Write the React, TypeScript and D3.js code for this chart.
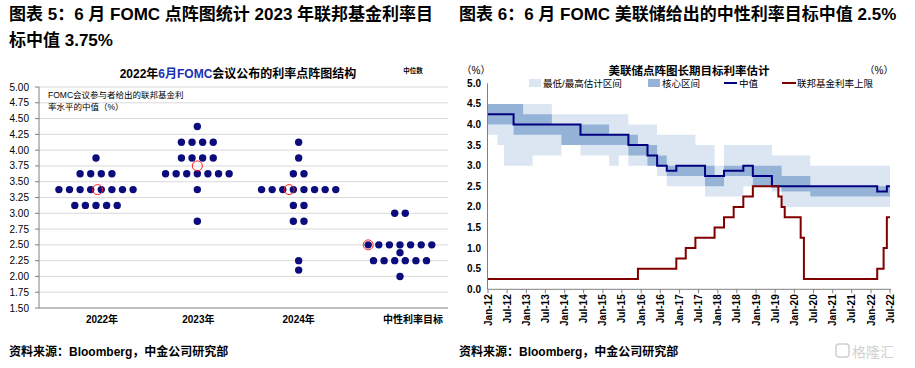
import React from "react";
import * as d3 from "d3";

const FONT = "'Liberation Sans', Arial, 'Noto Sans CJK SC', sans-serif";
const CJK = "'Liberation Sans', 'Noto Sans CJK SC', sans-serif";

// ---------- left chart: June 2022 dot plot ----------
const dotCategories = ["2022年", "2023年", "2024年", "中性利率目标"];
// [rate, number of participants]
const dots2022 = [[3.875, 1], [3.625, 4], [3.375, 8], [3.125, 5]];
const dots2023 = [[4.375, 1], [4.125, 4], [3.875, 4], [3.625, 7], [3.375, 1], [2.875, 1]];
const dots2024 = [[4.125, 1], [3.875, 1], [3.625, 2], [3.375, 8], [3.125, 2], [2.875, 2], [2.25, 1], [2.1, 1]];
const dotsLongRun = [[3.0, 2], [2.5, 7], [2.375, 1], [2.25, 6], [2.0, 1]];
const medianValues = [3.375, 3.75, 3.375, 2.5];
const medianSlot = [0.15, 0, -0.9, -3];
const labelShift = [6, 1, 0, 13];
const dotTicks = d3.range(1.5, 5.001, 0.25);

// ---------- right chart: longer-run rate estimates ----------
const sepDates = [
  "2012-01", "2012-04", "2012-06", "2012-09", "2012-12", "2013-03", "2013-06", "2013-09", "2013-12",
  "2014-03", "2014-06", "2014-09", "2014-12", "2015-03", "2015-06", "2015-09", "2015-12", "2016-03",
  "2016-06", "2016-09", "2016-12", "2017-03", "2017-06", "2017-09", "2017-12", "2018-03", "2018-06",
  "2018-09", "2018-12", "2019-03", "2019-06", "2019-09", "2019-12", "2020-06", "2020-09", "2020-12",
  "2021-03", "2021-06", "2021-09", "2021-12", "2022-03", "2022-06", "2022-07",
];
const sepMedian = [
  4.25, 4.25, 4.25, 4.0, 4.0, 4.0, 4.0, 4.0, 4.0,
  4.0, 3.75, 3.75, 3.75, 3.75, 3.75, 3.5, 3.5, 3.25,
  3.0, 2.875, 3.0, 3.0, 3.0, 2.75, 2.75, 2.875, 2.875,
  3.0, 2.75, 2.75, 2.5, 2.5, 2.5, 2.5, 2.5, 2.5,
  2.5, 2.5, 2.5, 2.5, 2.375, 2.5, 2.5,
];
const coreLow = [
  4.0, 4.0, 4.0, 3.75, 3.75, 3.75, 3.75, 3.75, 3.5,
  3.5, 3.5, 3.5, 3.5, 3.5, 3.5, 3.25, 3.25, 3.0,
  3.0, 2.75, 2.75, 2.75, 2.75, 2.5, 2.5, 2.75, 2.75,
  2.75, 2.5, 2.5, 2.5, 2.375, 2.375, 2.25, 2.25, 2.25,
  2.25, 2.25, 2.25, 2.25, 2.25, 2.25, 2.25,
];
const coreHigh = [
  4.5, 4.5, 4.5, 4.5, 4.25, 4.25, 4.25, 4.0, 4.0,
  4.0, 4.0, 4.0, 4.0, 3.75, 3.75, 3.75, 3.5, 3.5,
  3.25, 3.0, 3.0, 3.0, 3.0, 3.0, 2.75, 3.0, 3.0,
  3.0, 3.0, 3.0, 3.0, 2.75, 2.75, 2.5, 2.5, 2.5,
  2.5, 2.5, 2.5, 2.5, 2.5, 2.5, 2.5,
];
const rangeLow = [
  3.75, 3.5, 3.0, 3.0, 3.0, 3.25, 3.25, 3.25, 3.5,
  3.5, 3.25, 3.25, 3.25, 3.0, 3.25, 3.0, 3.0, 3.0,
  2.75, 2.5, 2.5, 2.5, 2.5, 2.25, 2.25, 2.25, 2.25,
  2.5, 2.5, 2.5, 2.375, 2.0, 2.0, 2.0, 2.0, 2.0,
  2.0, 2.0, 2.0, 2.0, 2.0, 2.0, 2.0,
];
const rangeHigh = [
  4.5, 4.5, 4.5, 4.5, 4.5, 4.5, 4.5, 4.25, 4.25,
  4.25, 4.25, 4.25, 4.25, 4.25, 4.25, 4.0, 4.0, 4.0,
  3.75, 3.75, 3.75, 3.75, 3.5, 3.5, 3.0, 3.5, 3.5,
  3.5, 3.5, 3.5, 3.25, 3.25, 3.25, 3.0, 3.0, 3.0,
  3.0, 3.0, 3.0, 3.0, 3.0, 3.0, 3.0,
];
// fed funds target upper bound, month of each change
const fedDates = [
  "2012-01", "2015-12", "2016-12", "2017-03", "2017-06", "2017-12", "2018-03", "2018-06", "2018-09",
  "2018-12", "2019-08", "2019-09", "2019-10", "2020-03", "2020-04", "2022-03", "2022-05", "2022-06", "2022-07",
];
const fedUpper = [
  0.25, 0.5, 0.75, 1.0, 1.25, 1.5, 1.75, 2.0, 2.25,
  2.5, 2.25, 2.0, 1.75, 1.25, 0.25, 0.5, 1.0, 1.75, 1.75,
];
const rateTicks = d3.range(0, 5.001, 0.5);

const LIGHT = "#dce6f2";
const DARK = "#95b3d7";
const NAVY = "#000080";
const MAROON = "#800000";
const AXIS = "#808080";

const parseMonth = d3.timeParse("%Y-%m");

export default function App() {
  // left scales
  const yL = d3.scaleLinear().domain([1.5, 5]).range([308, 87]);
  const xL = d3.scalePoint<string>().domain(dotCategories).range([96, 400]);
  const DOT_GAP = 10.6;
  const dotSets = [dots2022, dots2023, dots2024, dotsLongRun];
  const dotMarks = dotSets.flatMap((rows, ci) =>
    rows.flatMap(([v, n]) =>
      d3.range(n).map((i) => ({
        cx: (xL(dotCategories[ci]) as number) + (i - (n - 1) / 2) * DOT_GAP,
        cy: yL(v),
      }))
    )
  );

  // right scales
  const xR = d3
    .scaleTime()
    .domain([new Date(2012, 0, 1), new Date(2022, 6, 1)])
    .range([488, 890]);
  const yR = d3.scaleLinear().domain([0, 5]).range([289.3, 83.3]);
  const sep = sepDates.map((d, i) => ({
    date: parseMonth(d) as Date,
    med: sepMedian[i],
    cl: coreLow[i],
    ch: coreHigh[i],
    rl: rangeLow[i],
    rh: rangeHigh[i],
  }));
  const fed = fedDates.map((d, i) => ({ date: parseMonth(d) as Date, v: fedUpper[i] }));
  const rangeArea = d3
    .area<any>()
    .x((d) => xR(d.date))
    .y0((d) => yR(d.rl))
    .y1((d) => yR(d.rh))
    .curve(d3.curveStepAfter);
  const coreArea = d3
    .area<any>()
    .x((d) => xR(d.date))
    .y0((d) => yR(d.cl))
    .y1((d) => yR(d.ch))
    .curve(d3.curveStepAfter);
  const medLine = d3
    .line<any>()
    .x((d) => xR(d.date))
    .y((d) => yR(d.med))
    .curve(d3.curveStepAfter);
  const fedLine = d3
    .line<any>()
    .x((d) => xR(d.date))
    .y((d) => yR(d.v))
    .curve(d3.curveStepAfter);
  const xTicks = xR.ticks(d3.timeMonth.every(6) as any);
  const fmtMonth = d3.timeFormat("%b-%y");

  return (
    <svg
      width={915}
      height={368}
      style={{ position: "absolute", left: 0, top: 0, background: "#fff" }}
      fontFamily={FONT}
    >
      {/* headings */}
      <text x={9} y={20} fontSize={17} fontWeight="bold" fontFamily={CJK}>
        图表 5：6 月 FOMC 点阵图统计 2023 年联邦基金利率目
      </text>
      <text x={9} y={46} fontSize={17} fontWeight="bold" fontFamily={CJK}>
        标中值 3.75%
      </text>
      <text x={459} y={20} fontSize={17} fontWeight="bold" fontFamily={CJK}>
        图表 6：6 月 FOMC 美联储给出的中性利率目标中值 2.5%
      </text>
      <text x={9} y={356} fontSize={12} fontWeight="bold" fontFamily={CJK}>
        资料来源：Bloomberg，中金公司研究部
      </text>
      <text x={459} y={356} fontSize={12} fontWeight="bold" fontFamily={CJK}>
        资料来源：Bloomberg，中金公司研究部
      </text>
      <text x={852} y={357} fontSize={14} fill="#d0d0d0" fontFamily={CJK}>
        格隆汇
      </text>
      <rect x={836} y={344} width={13} height={13} rx={3} fill="none" stroke="#d0d0d0" strokeWidth={1.5} />

      {/* ---------- left chart ---------- */}
      <text x={238} y={78} fontSize={12} fontWeight="bold" textAnchor="middle" fontFamily={CJK}>
        2022年<tspan fill="#1c2fb4">6月FOMC</tspan>会议公布的利率点阵图结构
      </text>
      <text x={413} y={73} fontSize={6.5} fontWeight="bold" textAnchor="middle" fontFamily={CJK}>
        中位数
      </text>
      {dotTicks.map((t) => (
        <g key={t}>
          {t > 1.5 && <line x1={39} x2={448} y1={yL(t)} y2={yL(t)} stroke="#d9d9d9" strokeWidth={1} />}
          <line x1={35} x2={39} y1={yL(t)} y2={yL(t)} stroke={AXIS} />
          <text x={29} y={yL(t)} dy="0.35em" fontSize={10} textAnchor="end">
            {t.toFixed(2)}
          </text>
        </g>
      ))}
      <line x1={39} x2={39} y1={yL(5)} y2={yL(1.5)} stroke={AXIS} />
      <line x1={39} x2={448} y1={yL(1.5)} y2={yL(1.5)} stroke={AXIS} />
      <text x={48} y={98} fontSize={8.5} fontFamily={CJK}>
        FOMC会议参与者给出的联邦基金利
      </text>
      <text x={48} y={110} fontSize={8.5} fontFamily={CJK}>
        率水平的中值（%）
      </text>
      {dotCategories.map((c, i) => (
        <text key={c} x={(xL(c) as number) + labelShift[i]} y={323} fontSize={10} fontWeight="bold" textAnchor="middle" fontFamily={CJK}>
          {c}
        </text>
      ))}
      {dotMarks.map((d, i) => (
        <circle key={i} cx={d.cx} cy={d.cy} r={3.7} fill="#0c0c7c" />
      ))}
      {medianValues.map((v, i) => (
        <circle
          key={i}
          cx={(xL(dotCategories[i]) as number) + medianSlot[i] * DOT_GAP}
          cy={yL(v)}
          r={5}
          fill="none"
          stroke="#ff2020"
          strokeWidth={1}
        />
      ))}

      {/* ---------- right chart ---------- */}
      <text x={689} y={75} fontSize={11.5} fontWeight="bold" textAnchor="middle" fontFamily={CJK}>
        美联储点阵图长期目标利率估计
      </text>
      <text x={476} y={74} fontSize={10} textAnchor="middle" fontFamily={CJK}>（%）</text>
      <text x={879} y={74} fontSize={10} textAnchor="middle" fontFamily={CJK}>（%）</text>
      {/* legend */}
      <rect x={529} y={79} width={12} height={8} fill={LIGHT} />
      <text x={543} y={87} fontSize={9.5} fontFamily={CJK}>最低/最高估计区间</text>
      <rect x={648} y={79} width={12} height={8} fill={DARK} />
      <text x={662} y={87} fontSize={9.5} fontFamily={CJK}>核心区间</text>
      <line x1={724} x2={737} y1={83} y2={83} stroke={NAVY} strokeWidth={2} />
      <text x={739} y={87} fontSize={9.5} fontFamily={CJK}>中值</text>
      <line x1={782} x2={796} y1={83} y2={83} stroke={MAROON} strokeWidth={2} />
      <text x={797} y={87} fontSize={9.5} fontFamily={CJK}>联邦基金利率上限</text>

      <path d={rangeArea(sep) as string} fill={LIGHT} />
      <path d={coreArea(sep) as string} fill={DARK} />
      <path d={medLine(sep) as string} fill="none" stroke={NAVY} strokeWidth={2} />
      <path d={fedLine(fed) as string} fill="none" stroke={MAROON} strokeWidth={2} />

      <line x1={487.5} x2={487.5} y1={yR(5)} y2={yR(0)} stroke={AXIS} />
      <line x1={487.5} x2={891} y1={yR(0)} y2={yR(0)} stroke={AXIS} />
      {rateTicks.map((t) => (
        <text key={t} x={481} y={yR(t)} dy="0.35em" fontSize={10} fontWeight="bold" textAnchor="end">
          {t.toFixed(1)}
        </text>
      ))}
      {xTicks.map((t) => (
        <g key={+t}>
          <line x1={xR(t)} x2={xR(t)} y1={yR(0)} y2={yR(0) + 4} stroke={AXIS} />
          <text
            transform={`translate(${xR(t)},${yR(0) + 5}) rotate(-90)`}
            dy="0.35em"
            fontSize={10}
            fontWeight="bold"
            textAnchor="end"
          >
            {fmtMonth(t)}
          </text>
        </g>
      ))}
    </svg>
  );
}
